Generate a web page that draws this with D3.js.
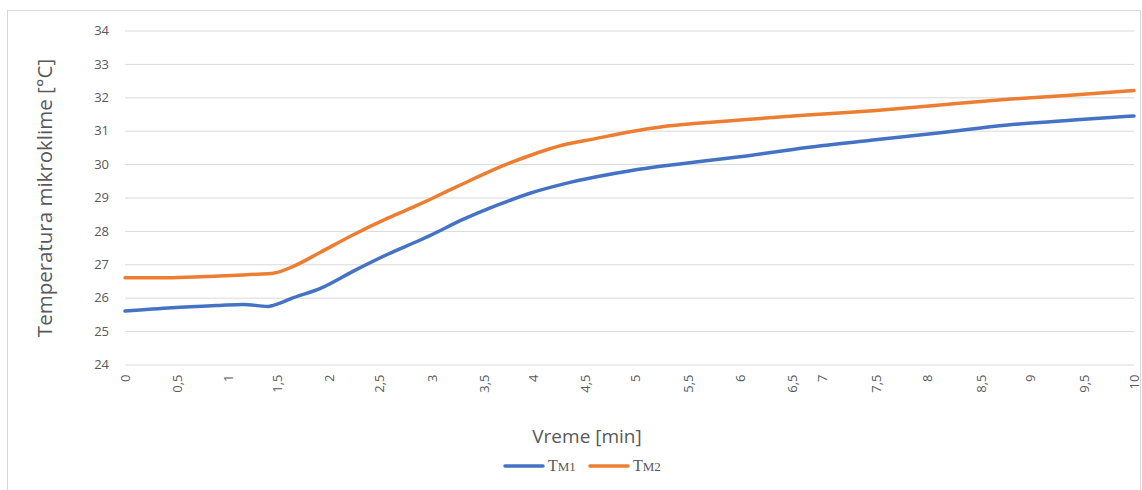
<!DOCTYPE html>
<html>
<head>
<meta charset="utf-8">
<script src="https://cdn.jsdelivr.net/npm/d3@7"></script>
<style>
  html, body { margin: 0; padding: 0; background: #fff; }
  svg { display: block; }
</style>
</head>
<body>
<svg id="chart" width="1142" height="490"></svg>
<script>
// ---- data (category axis: sample index of the time series) ----
const sampleCount = 600;
const xTickLabels = ["0","0,5","1","1,5","2","2,5","3","3,5","4","4,5","5","5,5","6","6,5","7","7,5","8","8,5","9","9,5","10"];
const xTickSamples = [0,31,61,90,121,151,182,213,242,273,303,334,365,396,414,446,476,508,537,569,599];
const yTicks = [24,25,26,27,28,29,30,31,32,33,34];

const samples = [0,28,56,70,85,88,100,116,135,156,175,181,201,221,240,260,280,300,319,340,365,405,444,484,524,563,599];
const tm1 = [25.6,25.7,25.77,25.8,25.74,25.77,26.0,26.28,26.78,27.3,27.72,27.86,28.35,28.77,29.12,29.4,29.62,29.8,29.94,30.07,30.22,30.5,30.72,30.94,31.17,31.32,31.44];
const tm2 = [26.6,26.6,26.65,26.68,26.72,26.73,26.94,27.36,27.87,28.38,28.8,28.94,29.42,29.88,30.25,30.57,30.77,30.97,31.12,31.22,31.32,31.47,31.6,31.77,31.94,32.07,32.2];

const seriesNames = ["TM1","TM2"];
const seriesColors = ["#4472C4","#ED7D31"];

// ---- drawing ----
const svg = d3.select("#chart");

svg.append("rect").attr("x",7.5).attr("y",10.5).attr("width",1133).attr("height",485)
  .attr("fill","#fff").attr("stroke","#d9d9d9").attr("stroke-width",1);

const plot = {left:125, right:1134, top:30.5, bottom:364.5};
const x = d3.scaleLinear().domain([0, sampleCount-1]).range([plot.left, plot.right]);
const y = d3.scaleLinear().domain([24,34]).range([plot.bottom, plot.top]);

const font = "'Open Sans', 'DejaVu Sans', sans-serif";
const textColor = "#595959";

// gridlines + y axis
const yAxis = d3.axisLeft(y).tickValues(yTicks).tickSize(-(plot.right-plot.left)).tickPadding(16).tickFormat(d => String(d));
const gy = svg.append("g").attr("transform",`translate(${plot.left},0)`).call(yAxis);
gy.select(".domain").remove();
gy.selectAll(".tick line").attr("stroke","#d9d9d9").attr("stroke-width",1);
gy.selectAll(".tick text").attr("fill",textColor).style("font-family",font).style("font-size","13px");

// x axis labels
const xAxis = d3.axisBottom(x).tickValues(xTickSamples).tickSize(0).tickFormat((d,i) => xTickLabels[i]);
const gx = svg.append("g").attr("transform",`translate(0,${plot.bottom})`).call(xAxis);
gx.select(".domain").remove();
gx.selectAll(".tick text")
  .attr("fill",textColor).style("font-family",font).style("font-size","13px")
  .attr("transform","rotate(-90)")
  .attr("text-anchor","end")
  .attr("x",-10).attr("y",0).attr("dy","0.35em");

// lines
const data = [tm1, tm2];
const line = d3.line().x((d,i) => x(samples[i])).y(d => y(d)).curve(d3.curveMonotoneX);
data.forEach((vals, k) => {
  svg.append("path").datum(vals).attr("d", line)
    .attr("fill","none").attr("stroke",seriesColors[k]).attr("stroke-width",3.5)
    .attr("stroke-linejoin","round").attr("stroke-linecap","round");
});

// axis titles
svg.append("text").attr("transform","translate(52,198) rotate(-90)")
  .attr("text-anchor","middle").attr("fill",textColor)
  .style("font-family",font).style("font-size","20.5px")
  .text("Temperatura mikroklime [°C]");
svg.append("text").attr("x",587).attr("y",443)
  .attr("text-anchor","middle").attr("fill",textColor)
  .style("font-family",font).style("font-size","19px")
  .text("Vreme [min]");

// legend
const legendX = [505, 590];
seriesNames.forEach((name, k) => {
  const g = svg.append("g").attr("transform",`translate(${legendX[k]},466)`);
  g.append("line").attr("x1",0).attr("x2",38).attr("y1",0).attr("y2",0)
    .attr("stroke",seriesColors[k]).attr("stroke-width",3.5).attr("stroke-linecap","round");
  const t = g.append("text").attr("x",43).attr("y",5).attr("fill",textColor)
    .style("font-family","'Liberation Serif', 'DejaVu Serif', serif");
  t.append("tspan").style("font-size","16px").text(name.charAt(0));
  t.append("tspan").style("font-size","13px").text(name.slice(1));
});
</script>
</body>
</html>
